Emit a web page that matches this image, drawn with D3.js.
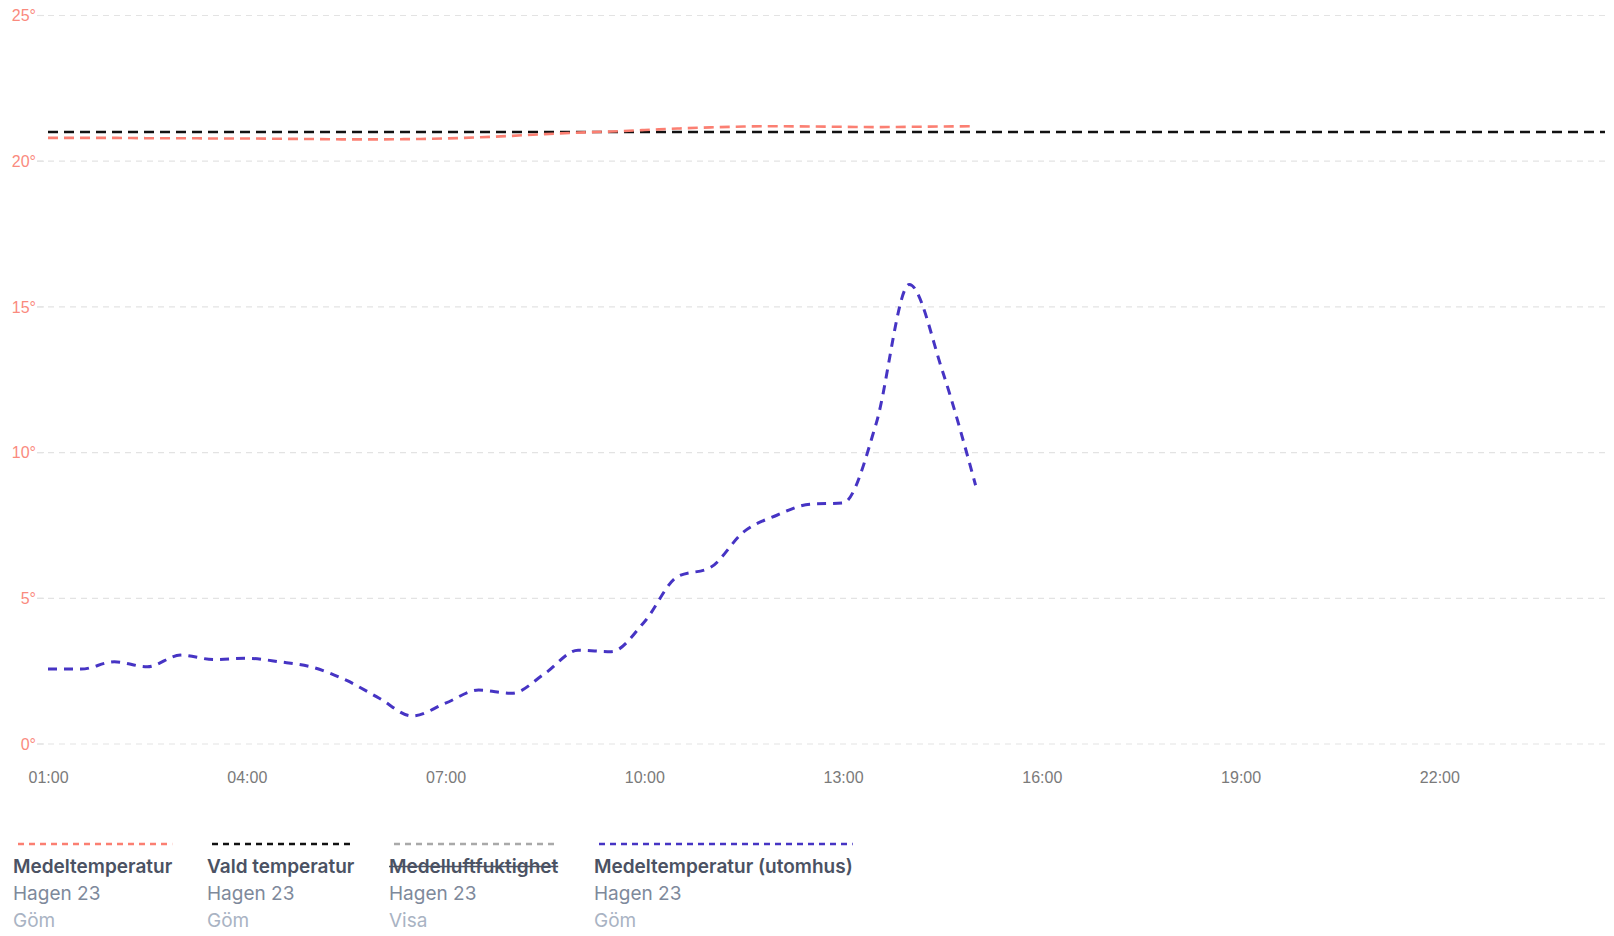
<!DOCTYPE html>
<html>
<head>
<meta charset="utf-8">
<script src="https://cdn.jsdelivr.net/npm/d3@7"></script>
<style>
  body { margin: 0; background: #fff; }
  svg { display: block; }
</style>
</head>
<body>
<div id="chart"></div>
<script>
////////////////////////////////////////////////////////////////////////////////
///////////////////////////////////////////////////////////////////////// Data
////////////////////////////////////////////////////////////////////////////////

// half-hour readings, 01:00 - 15:00
const times = ["01:00", "01:30", "02:00", "02:30", "03:00", "03:30", "04:00", "04:30",
               "05:00", "05:30", "06:00", "06:30", "07:00", "07:30", "08:00", "08:30",
               "09:00", "09:30", "10:00", "10:30", "11:00", "11:30", "12:00", "12:30",
               "13:00", "13:30", "14:00", "14:30", "15:00"];

// Medeltemperatur (inne)
const meanTemp = [20.80, 20.80, 20.80, 20.79, 20.79, 20.78, 20.78, 20.77,
                  20.76, 20.75, 20.75, 20.76, 20.78, 20.82, 20.87, 20.93,
                  20.98, 21.02, 21.07, 21.12, 21.16, 21.19, 21.20, 21.19,
                  21.18, 21.17, 21.18, 21.19, 21.20];

// Medeltemperatur (utomhus)
const outdoorTemp = [2.57, 2.57, 2.82, 2.65, 3.05, 2.90, 2.94, 2.82,
                     2.63, 2.19, 1.57, 0.96, 1.40, 1.85, 1.74, 2.42,
                     3.22, 3.17, 4.19, 5.74, 6.06, 7.28, 7.85, 8.23,
                     8.27, 11.00, 15.77, 12.80, 8.88];

// Vald temperatur (setpoint, whole day)
const setpointTimes = ["01:00", "00:30"];
const setpointTemp = [21.0, 21.0];

const xTicks = ["01:00", "04:00", "07:00", "10:00", "13:00", "16:00", "19:00", "22:00"];
const yTicks = [0, 5, 10, 15, 20, 25];
const xDomain = ["01:00", "00:30"];

const legendNames = ["Medeltemperatur", "Vald temperatur", "Medelluftfuktighet", "Medeltemperatur (utomhus)"];
const legendSub = ["Hagen 23", "Hagen 23", "Hagen 23", "Hagen 23"];
const legendAction = ["Göm", "Göm", "Visa", "Göm"];
const legendHidden = [false, false, true, false];
const legendColors = ["#fb7f72", "#111111", "#a9a9a9", "#4634c4"];

////////////////////////////////////////////////////////////////////////////////
//////////////////////////////////////////////////////////////////////// Chart
////////////////////////////////////////////////////////////////////////////////

const W = 1614, H = 936;

// times before 01:00 belong to the next day
function parseTime(t) {
  const [h, m] = t.split(":").map(Number);
  return new Date(2024, 0, h < 1 ? 2 : 1, h, m);
}

const svg = d3.select("#chart")
              .append("svg")
                .attr("width", W)
                .attr("height", H);

const xScale = d3.scaleTime()
                 .domain(xDomain.map(parseTime))
                 .range([48, 1605]);

const yScale = d3.scaleLinear()
                 .domain([0, 25])
                 .range([744, 15.5]);

// Grid lines + y labels
const yAxis = svg.append("g").attr("class", "yAxis");
yAxis.selectAll("line.grid")
  .data(yTicks)
  .join("line")
    .attr("class", "grid")
    .attr("x1", 37)
    .attr("x2", 1605)
    .attr("y1", d => yScale(d))
    .attr("y2", d => yScale(d))
    .attr("stroke", "#e3e3e3")
    .attr("stroke-width", 1.2)
    .attr("stroke-dasharray", "6,5");

yAxis.selectAll("line.tick")
  .data(yTicks)
  .join("line")
    .attr("class", "tick")
    .attr("x1", 37)
    .attr("x2", 44)
    .attr("y1", d => yScale(d))
    .attr("y2", d => yScale(d))
    .attr("stroke", "#e3e3e3")
    .attr("stroke-width", 1.2);

yAxis.selectAll("text")
  .data(yTicks)
  .join("text")
    .attr("x", 36)
    .attr("y", d => yScale(d))
    .attr("dy", "0.36em")
    .attr("text-anchor", "end")
    .style("font-family", "'Liberation Sans', Arial, sans-serif")
    .style("font-size", "16px")
    .style("fill", "#fa8a7e")
    .text(d => d + "°");

// X axis
const xAxis = d3.axisBottom(xScale)
                .tickValues(xTicks.map(parseTime))
                .tickFormat(d3.timeFormat("%H:%M"))
                .tickSize(0)
                .tickPadding(0);

svg.append("g")
   .attr("class", "xAxis")
   .attr("transform", "translate(0, 772)")
   .call(xAxis)
   .call(g => g.select(".domain").remove())
   .selectAll("text")
     .style("font-family", "'Liberation Sans', Arial, sans-serif")
     .style("font-size", "16px")
     .style("fill", "#7a7a7a");

// Lines
const line = d3.line()
               .x(d => xScale(d.t))
               .y(d => yScale(d.v))
               .curve(d3.curveMonotoneX);

const series = [
  { t: setpointTimes, v: setpointTemp, color: legendColors[1], width: 2.6, dash: "10,6" },
  { t: times, v: meanTemp, color: legendColors[0], width: 2.6, dash: "10,6" },
  { t: times, v: outdoorTemp, color: legendColors[3], width: 3, dash: "9,7" }
];

svg.selectAll(".line")
  .data(series)
  .join("path")
    .attr("class", "line")
    .attr("fill", "none")
    .attr("stroke", d => d.color)
    .attr("stroke-width", d => d.width)
    .attr("stroke-dasharray", d => d.dash)
    .attr("d", d => line(d.t.map((t, i) => ({ t: parseTime(t), v: d.v[i] }))));

// Legend
const legendX = [13, 207, 389, 594];
const legend = svg.append("g").attr("class", "legend");

legendNames.forEach(function(name, i) {
  const g = legend.append("g").attr("transform", `translate(${legendX[i]},0)`);

  const title = g.append("text")
                 .attr("x", 0)
                 .attr("y", 873)
                 .style("font-family", "Inter, 'Noto Sans', sans-serif")
                 .style("font-size", "19px")
                 .style("font-weight", 600)
                 .style("fill", "#4b5263")
                 .text(name);

  const tw = title.node().getComputedTextLength();

  g.append("line")
   .attr("x1", 5)
   .attr("x2", tw)
   .attr("y1", 844)
   .attr("y2", 844)
   .attr("stroke", legendColors[i])
   .attr("stroke-width", 2.6)
   .attr("stroke-dasharray", "6,5");

  if (legendHidden[i]) {
    g.append("line")
     .attr("x1", 0)
     .attr("x2", tw)
     .attr("y1", 866.5)
     .attr("y2", 866.5)
     .attr("stroke", "#4b5263")
     .attr("stroke-width", 1.5);
  }

  g.append("text")
   .attr("x", 0)
   .attr("y", 900)
   .style("font-family", "Inter, 'Noto Sans', sans-serif")
   .style("font-size", "19px")
   .style("fill", "#7e899b")
   .text(legendSub[i]);

  g.append("text")
   .attr("x", 0)
   .attr("y", 927)
   .style("font-family", "Inter, 'Noto Sans', sans-serif")
   .style("font-size", "19px")
   .style("fill", "#a9b3c3")
   .text(legendAction[i]);
});
</script>
</body>
</html>
